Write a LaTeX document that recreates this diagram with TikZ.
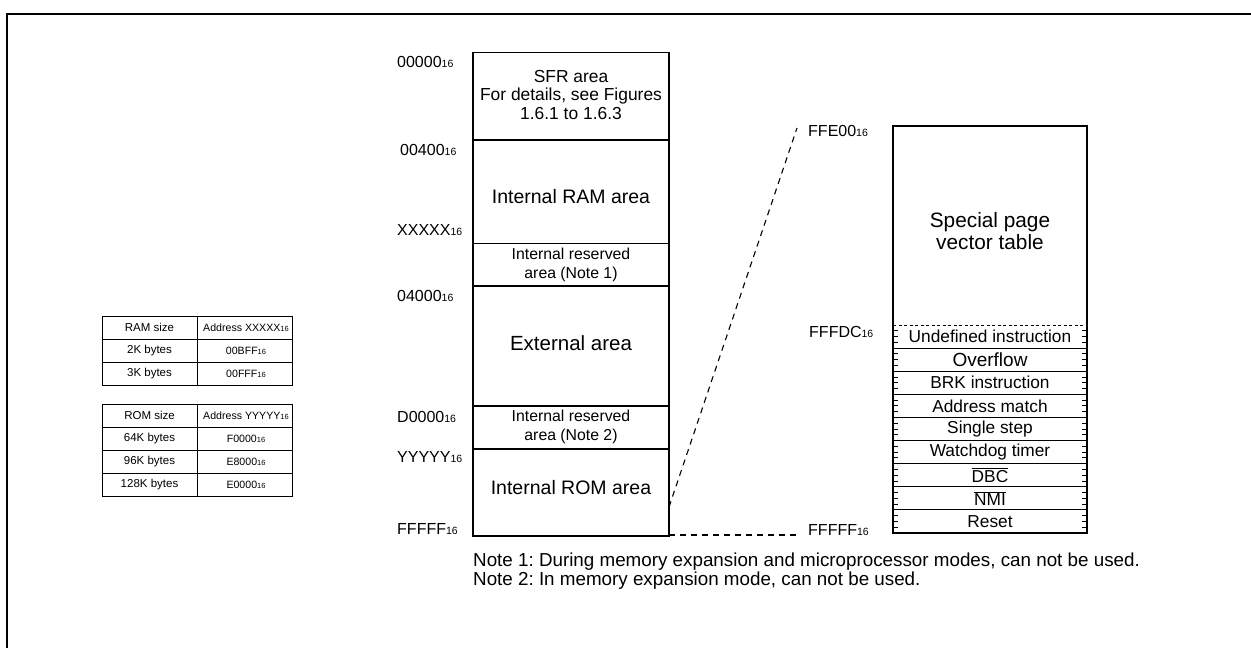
\documentclass[tikz,border=0pt]{standalone}
\usepackage{fontspec}
\setmainfont{Liberation Sans}
\newcommand\hx[1]{#1{\fontsize{10.5}{10.5}\selectfont 16}}
\newcommand\hxs[1]{#1{\fontsize{7.5}{7.5}\selectfont 16}}
\begin{document}
\frenchspacing
\begin{tikzpicture}[x=1pt,y=-1pt,
  box/.style={draw, line width=1.2pt},
  thin/.style={line width=0.8pt},
  lbl/.style={anchor=west, inner sep=0pt, font=\fontsize{16}{16}\selectfont},
  txt/.style={inner sep=0pt, align=center, font=\fontsize{17.4}{18.5}\selectfont},
  big/.style={inner sep=0pt, align=center, font=\fontsize{19.5}{21}\selectfont},
  small/.style={inner sep=0pt, align=center, font=\fontsize{15.8}{18.8}\selectfont},
  ent/.style={inner sep=0pt, font=\fontsize{17.3}{17.3}\selectfont},
  tbl/.style={inner sep=0pt, font=\fontsize{11.5}{11.5}\selectfont},
  tba/.style={inner sep=0pt, font=\fontsize{10.6}{10.6}\selectfont},
  note/.style={anchor=west, inner sep=0pt, font=\fontsize{18.8}{18.8}\selectfont},
  link/.style={line width=1.1pt, dash pattern=on 6pt off 5pt}
]
\useasboundingbox (0,0) rectangle (1251,648);
% frame
\draw[line width=2.6pt] (7,648) -- (7,14) -- (1251,14);

% memory map
\draw[box] (473,52.7) rectangle (669,536);
\foreach \yy in {140,243.3,286,406,449}{\draw[box] (473,\yy) -- (669,\yy);}
\node[txt] (sfr) at (571,95) {SFR area\\For details, see Figures\\1.6.1 to 1.6.3};
\node[big] (ram) at (571,197) {Internal RAM area};
\node[small] (res1) at (571,265) {Internal reserved\\area (Note 1)};
\node[big,font=\fontsize{20.5}{21}\selectfont] (ext) at (571,343) {External area};
\node[small] (res2) at (571,427) {Internal reserved\\area (Note 2)};
\node[big] (rom) at (571,488) {Internal ROM area};

\node[lbl] (a0) at (397,62) {\hx{00000}};
\node[lbl] (a1) at (400,150) {\hx{00400}};
\node[lbl] (a2) at (397,230) {\hx{XXXXX}};
\node[lbl] (a3) at (397,296) {\hx{04000}};
\node[lbl] (a4) at (397,417) {\hx{D0000}};
\node[lbl] (a5) at (397,457) {\hx{YYYYY}};
\node[lbl] (a6) at (397,529) {\hx{FFFFF}};

% vector table
\draw[box] (893,126) rectangle (1087,533);
\draw[thin, dash pattern=on 3pt off 2.5pt] (893,325) -- (1087,325);
\foreach \k in {1,...,8}{\draw[thin] (893,{325+\k*23.111}) -- (1087,{325+\k*23.111});}
\foreach \k in {0,...,8}{
  \foreach \j in {1,2,3}{
    \draw[thin] (893,{325+\k*23.111+\j*5.778}) -- +(5,0);
    \draw[thin] (1087,{325+\k*23.111+\j*5.778}) -- +(-5,0);
  }
}
\node[big,font=\fontsize{20.8}{22}\selectfont] (spv) at (990,231) {Special page\\vector table};
\node[ent] (v1) at (990,336.5) {Undefined instruction};
\node[ent,font=\fontsize{19}{19}\selectfont] (v2) at (990,359.7) {Overflow};
\node[ent] (v3) at (990,382.8) {BRK instruction};
\node[ent] (v4) at (990,405.9) {Address match};
\node[ent] (v5) at (990,429) {Single step};
\node[ent] (v6) at (990,452.1) {Watchdog timer};
\node[ent] (v7) at (990,475.2) {$\overline{\mbox{DBC}}$};
\node[ent] (v8) at (990,498.3) {$\overline{\mbox{NMI}}$};
\node[ent] (v9) at (990,521.4) {Reset};

\node[lbl] (b0) at (808,131) {\hx{FFE00}};
\node[lbl] (b1) at (809,332) {\hx{FFFDC}};
\node[lbl] (b2) at (808,530) {\hx{FFFFF}};

% expansion links
\coordinate (romtop) at (669,507);
\coordinate (rombot) at (669,535);
\coordinate (vtop) at (797,128);
\coordinate (vbot) at (797,535);
\draw[link] (romtop) -- (vtop);
\draw[link] (rombot) -- (vbot);

% RAM table
\draw[box, line width=1pt] (102,316) rectangle (292,385);
\draw[thin] (197,316) -- (197,385);
\draw[thin] (102,339) -- (292,339);
\draw[thin] (102,362) -- (292,362);
\node[tbl] (t1a) at (149.5,327.5) {RAM size};
\node[tba] (t1b) at (246,327.5) {Address \hxs{XXXXX}};
\node[tbl] (t1c) at (149.5,350.5) {2K bytes};
\node[tba] (t1d) at (246,350.5) {\hxs{00BFF}};
\node[tbl] (t1e) at (149.5,373.5) {3K bytes};
\node[tba] (t1f) at (246,373.5) {\hxs{00FFF}};

% ROM table
\draw[box, line width=1pt] (102,404) rectangle (292,496);
\draw[thin] (197,404) -- (197,496);
\foreach \yy in {427,450,473}{\draw[thin] (102,\yy) -- (292,\yy);}
\node[tbl] (t2a) at (149.5,415.5) {ROM size};
\node[tba] (t2b) at (246,415.5) {Address \hxs{YYYYY}};
\node[tbl] (t2c) at (149.5,438.5) {64K bytes};
\node[tba] (t2d) at (246,438.5) {\hxs{F0000}};
\node[tbl] (t2e) at (149.5,461.5) {96K bytes};
\node[tba] (t2f) at (246,461.5) {\hxs{E8000}};
\node[tbl] (t2g) at (149.5,484.5) {128K bytes};
\node[tba] (t2h) at (246,484.5) {\hxs{E0000}};

% notes
\node[note] (n1) at (473,562) {Note 1: During memory expansion and microprocessor modes, can not be used.};
\node[note] (n2) at (473,581) {Note 2: In memory expansion mode, can not be used.};
\end{tikzpicture}
\end{document}
